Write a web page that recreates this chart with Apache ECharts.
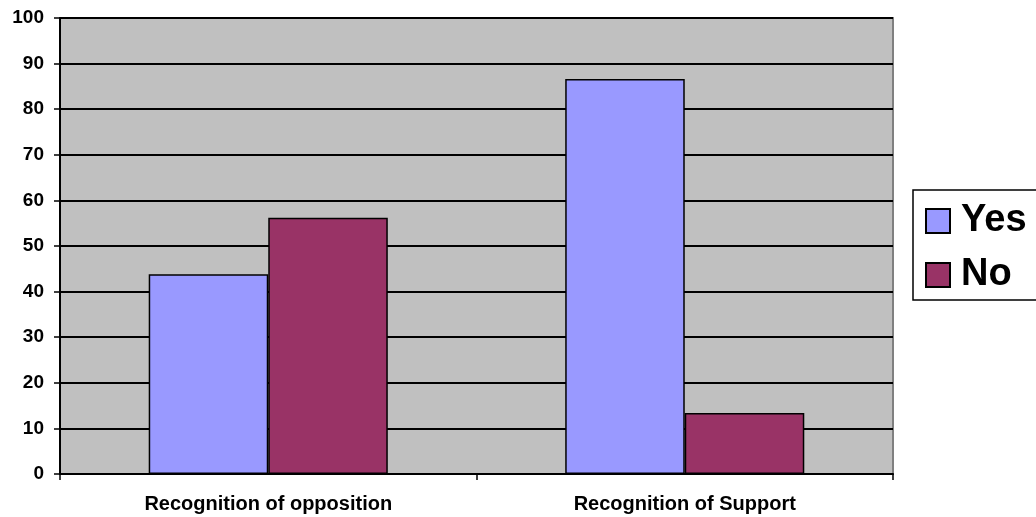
<!DOCTYPE html>
<html><head><meta charset="utf-8">
<script src="https://cdn.jsdelivr.net/npm/echarts@6/dist/echarts.min.js"></script>
<style>html,body{margin:0;padding:0;background:#fff}#c{width:1036px;height:517px}</style>
</head><body><div id="c"></div>
<script>
const categories = ["Recognition of opposition", "Recognition of Support"];
const yesValues = [43.8, 86.6];
const noValues = [56.2, 13.4];
const seriesNames = ["Yes", "No"];

const chart = echarts.init(document.getElementById('c'));
const font = 'Liberation Sans, Arial, sans-serif';
chart.setOption({
  animation: false,
  backgroundColor: '#ffffff',
  grid: { left: 60, right: 143, top: 18, bottom: 43, show: true, backgroundColor: '#c0c0c0', borderColor: '#808080', borderWidth: 2 },
  legend: {
    left: 913, top: 190, orient: 'vertical',
    data: seriesNames,
    icon: 'rect',
    borderColor: '#000', borderWidth: 1.5, padding: [11, 30, 5, 12],
    itemWidth: 24, itemHeight: 24, itemGap: 14,
    textStyle: { fontFamily: font, fontWeight: 'bold', fontSize: 38, lineHeight: 40, color: '#000', padding: [0, 0, 0, 6] }
  },
  xAxis: {
    type: 'category', data: categories,
    axisLine: { lineStyle: { color: '#000', width: 2 } },
    axisTick: { show: true, alignWithLabel: false, length: 6, lineStyle: { color: '#000', width: 1.5 } },
    axisLabel: { fontFamily: font, fontWeight: 'bold', fontSize: 20, color: '#000', margin: 20 }
  },
  yAxis: {
    type: 'value', min: 0, max: 100, interval: 10,
    axisLine: { show: true, lineStyle: { color: '#000', width: 2 } },
    axisTick: { show: true, length: 6, lineStyle: { color: '#000', width: 1.5 } },
    splitLine: { lineStyle: { color: '#000', width: 1.8 } },
    axisLabel: { fontFamily: font, fontWeight: 'bold', fontSize: 19, color: '#000', margin: 16 }
  },
  series: [
    { name: seriesNames[0], type: 'bar', data: yesValues, barGap: '0%', barCategoryGap: '42.6%',
      itemStyle: { color: '#9999ff', borderColor: '#000', borderWidth: 1.5 } },
    { name: seriesNames[1], type: 'bar', data: noValues, barGap: '0%', barCategoryGap: '42.6%',
      itemStyle: { color: '#993366', borderColor: '#000', borderWidth: 1.5 } }
  ]
});
</script></body></html>
